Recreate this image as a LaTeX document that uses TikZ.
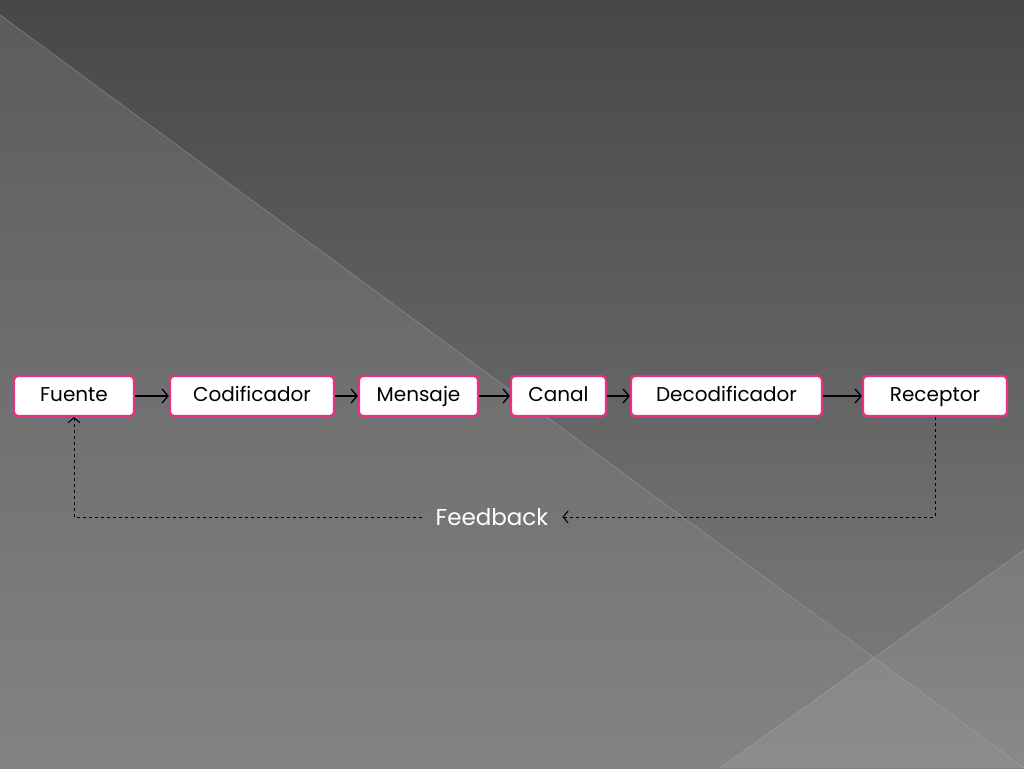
\documentclass[tikz,border=0pt]{standalone}
\usepackage{fontspec}
\setmainfont{Poppins}
\usetikzlibrary{positioning,arrows.meta}
\definecolor{rim}{RGB}{230,50,130}
\tikzstyle{stage}=[rectangle, rounded corners=4pt, draw=rim, fill=white, line width=2.2pt, minimum height=40pt, inner sep=0pt, text height=14pt, text depth=4pt, font=\fontsize{20}{22}\selectfont]
\tikzstyle{flow}=[-{Straight Barb[length=6pt,width=14pt]}, line width=1.3pt]
\tikzstyle{back}=[dashed, line width=1pt]

\begin{document}
\begin{tikzpicture}[x=1pt, y=-1pt]
                    \useasboundingbox (0,0) rectangle (1024,768);
                    \shade[top color=black!72, bottom color=black!50] (0,0) rectangle (1024,768);
                    \shade[top color=black!62, bottom color=black!48, opacity=0.8] (0,15)--(1024,768)--(0,768)--cycle;
                    \fill[white, opacity=0.08] (720,768)--(1024,550)--(1024,768)--cycle;
                    \draw[white!70!black, opacity=0.6] (0,15)--(1024,768) (720,768)--(1024,550);
                    \node[stage, minimum width=120pt] (fuente) at (74, 396) {Fuente};
                    \node[stage, minimum width=164pt] (cod) at (252, 396) {Codificador};
                    \node[stage, minimum width=119pt] (men) at (418.5, 396) {Mensaje};
                    \node[stage, minimum width=95pt] (can) at (558.5, 396) {Canal};
                    \node[stage, minimum width=191pt] (dec) at (726.5, 396) {Decodificador};
                    \node[stage, minimum width=144pt] (rec) at (935, 396) {Receptor};
                    \node[white, font=\fontsize{23}{26}\selectfont, inner xsep=14pt] (fb) at (492, 517) {Feedback};
                    \draw[flow] (fuente)--(cod);
                    \draw[flow] (cod)--(men);
                    \draw[flow] (men)--(can);
                    \draw[flow] (can)--(dec);
                    \draw[flow] (dec)--(rec);
                    \draw[back, -{Straight Barb[length=5pt,width=12pt]}] (rec.south) |- (fb.east);
                    \draw[back, -{Straight Barb[length=5pt,width=12pt]}] (fb.west) -| (fuente.south);
                \end{tikzpicture}
\end{document}
